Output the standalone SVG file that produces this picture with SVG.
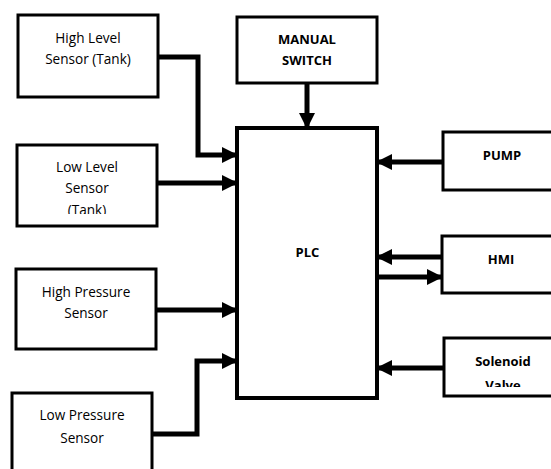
<svg xmlns="http://www.w3.org/2000/svg" width="551" height="469" viewBox="0 0 551 469">
<style>
.box{fill:#fff;stroke:#000;stroke-width:3}
.plc{fill:#fff;stroke:#000;stroke-width:4}
.t{font-family:"Open Sans","Liberation Sans",sans-serif;font-size:13.6px;text-anchor:middle;fill:#000}
.b{font-weight:bold;font-size:13px}
.c{fill:none;stroke:#000;stroke-width:5;marker-end:url(#ah)}
</style>
<defs>
<marker id="ah" markerUnits="userSpaceOnUse" markerWidth="16" markerHeight="16" refX="15" refY="8" orient="auto" viewBox="0 0 16 16">
<path d="M0,0 L16,8 L0,16 Z" fill="#000"/>
</marker>
<clipPath id="clipLow"><rect x="17" y="145" width="140" height="69"/></clipPath>
<clipPath id="clipSol"><rect x="444" y="338" width="120" height="49"/></clipPath>
</defs>
<g id="high-level">
<rect class="box" x="18" y="15" width="140" height="82"/>
<text class="t" x="88" y="43">High Level</text>
<text class="t" x="88" y="64">Sensor (Tank)</text>
</g>
<g id="low-level">
<rect class="box" x="17" y="145" width="140" height="81"/>
<g clip-path="url(#clipLow)">
<text class="t" x="87" y="172">Low Level</text>
<text class="t" x="87" y="193">Sensor</text>
<text class="t" x="87" y="215">(Tank)</text>
</g>
</g>
<g id="high-pressure">
<rect class="box" x="16" y="269" width="140" height="80"/>
<text class="t" x="86" y="297">High Pressure</text>
<text class="t" x="86" y="318">Sensor</text>
</g>
<g id="low-pressure">
<rect class="box" x="12" y="393" width="140" height="90"/>
<text class="t" x="82" y="420">Low Pressure</text>
<text class="t" x="82" y="443">Sensor</text>
</g>
<g id="manual-switch">
<rect class="box" x="237" y="17" width="140" height="66"/>
<text class="t b" x="307" y="44">MANUAL</text>
<text class="t b" x="307" y="65">SWITCH</text>
</g>
<g id="plc">
<rect class="plc" x="237" y="128" width="140" height="270"/>
<text class="t b" x="307.5" y="257">PLC</text>
</g>
<g id="pump">
<rect class="box" x="443" y="132" width="130" height="58"/>
<text class="t b" x="502" y="160">PUMP</text>
</g>
<g id="hmi">
<rect class="box" x="442" y="236" width="130" height="57"/>
<text class="t b" x="501" y="264">HMI</text>
</g>
<g id="solenoid">
<rect class="box" x="444" y="338" width="130" height="58"/>
<g clip-path="url(#clipSol)">
<text class="t b" x="503" y="366">Solenoid</text>
<text class="t b" x="503" y="390">Valve</text>
</g>
</g>
<g id="connectors">
<path class="c" d="M158,57 H198 V155 H237"/>
<path class="c" d="M157,183 H237"/>
<path class="c" d="M156,310 H237"/>
<path class="c" d="M152,434 H197 V361 H237"/>
<path class="c" d="M307,83 V128"/>
<path class="c" d="M443,162 H377"/>
<path class="c" d="M442,257 H377"/>
<path class="c" d="M377,277 H442"/>
<path class="c" d="M444,368 H377"/>
</g>
</svg>
